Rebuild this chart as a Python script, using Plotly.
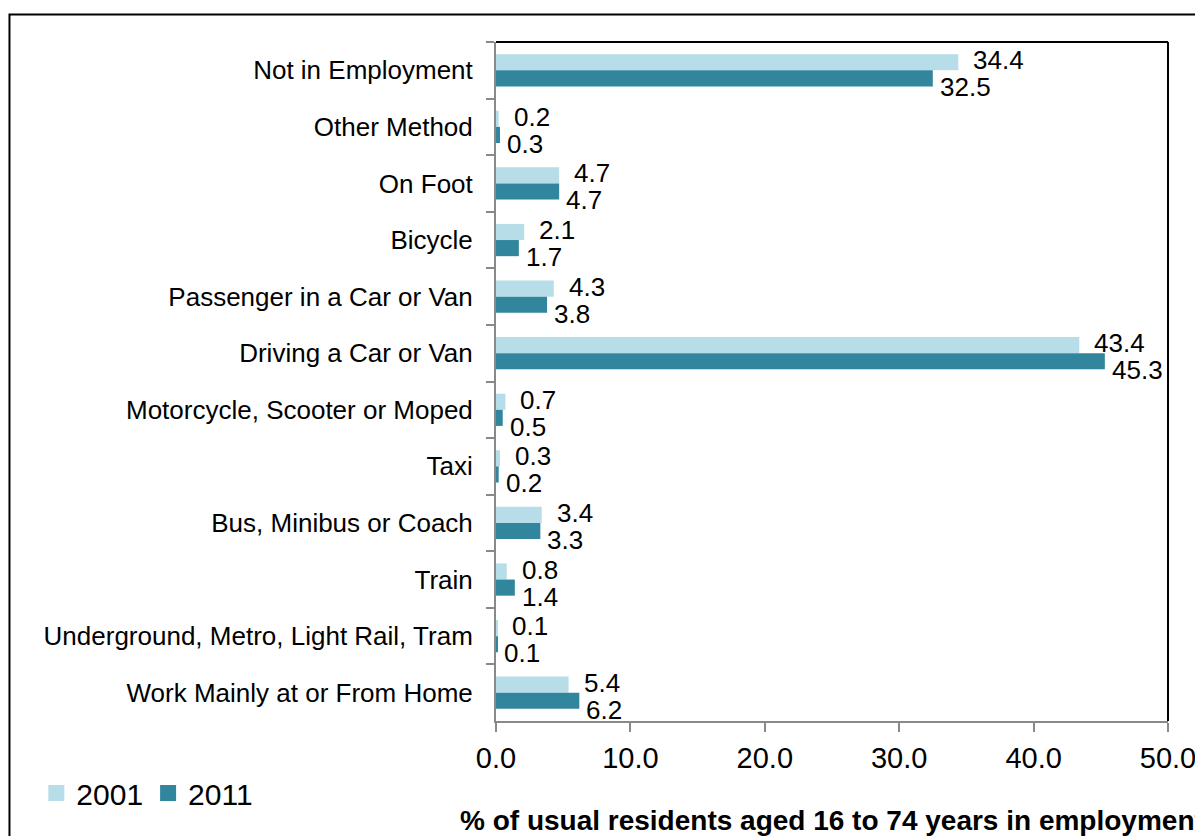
import plotly.graph_objects as go

categories = [
    "Not in Employment",
    "Other Method",
    "On Foot",
    "Bicycle",
    "Passenger in a Car or Van",
    "Driving a Car or Van",
    "Motorcycle, Scooter or Moped",
    "Taxi",
    "Bus, Minibus or Coach",
    "Train",
    "Underground, Metro, Light Rail, Tram",
    "Work Mainly at or From Home",
]
values_2001 = [34.4, 0.2, 4.7, 2.1, 4.3, 43.4, 0.7, 0.3, 3.4, 0.8, 0.1, 5.4]
values_2011 = [32.5, 0.3, 4.7, 1.7, 3.8, 45.3, 0.5, 0.2, 3.3, 1.4, 0.1, 6.2]
x_ticks = [0, 10, 20, 30, 40, 50]

FONT = "Arial, Liberation Sans, sans-serif"
light = "#B7DEE8"
dark = "#31859C"
axis_grey = "#898989"

fig = go.Figure()

fig.add_trace(
    go.Bar(
        name="2001",
        y=categories,
        x=values_2001,
        orientation="h",
        marker=dict(color=light, line=dict(width=0)),
        showlegend=False,
    )
)
fig.add_trace(
    go.Bar(
        name="2011",
        y=categories,
        x=values_2011,
        orientation="h",
        marker=dict(color=dark, line=dict(width=0)),
        showlegend=False,
    )
)

# legend keys as plain squares
for name, colour in [("2001", light), ("2011", dark)]:
    fig.add_trace(
        go.Scatter(
            name=name,
            x=[None],
            y=[None],
            mode="markers",
            marker=dict(symbol="square", size=16, color=colour),
            showlegend=True,
        )
    )

# value labels, 2001 raised a little, 2011 dropped below its bar
annotations = []
for cat, v in zip(categories, values_2001):
    annotations.append(
        dict(x=v, y=cat, xref="x", yref="y", text=f"{v:.1f}", showarrow=False,
             xanchor="left", yanchor="middle", xshift=13, yshift=10,
             font=dict(family=FONT, size=26, color="black"))
    )
for cat, v in zip(categories, values_2011):
    annotations.append(
        dict(x=v, y=cat, xref="x", yref="y", text=f"{v:.1f}", showarrow=False,
             xanchor="left", yanchor="middle", xshift=5, yshift=-17,
             font=dict(family=FONT, size=26, color="black"))
    )

annotations.append(
    dict(x=0.5, y=-0.146, xref="paper", yref="paper",
         text="<b>% of usual residents aged 16 to 74 years in employment</b>",
         showarrow=False, xanchor="center", yanchor="middle",
         font=dict(family=FONT, size=28, color="black"))
)

fig.update_layout(
    width=1203,
    height=836,
    autosize=False,
    paper_bgcolor="white",
    plot_bgcolor="white",
    barmode="group",
    bargap=0.43,
    bargroupgap=0,
    margin=dict(l=488, r=43, t=34, b=123, pad=0),
    font=dict(family=FONT, size=26, color="black"),
    showlegend=True,
    legend=dict(
        orientation="h",
        x=-0.684,
        y=-0.106,
        xanchor="left",
        yanchor="middle",
        font=dict(family=FONT, size=30, color="black"),
        itemwidth=30,
        bgcolor="rgba(0,0,0,0)",
    ),
    annotations=annotations,
    shapes=[
        # plot area top and right edges
        dict(type="line", xref="paper", yref="paper", x0=0, x1=1, y0=1, y1=1,
             line=dict(color="black", width=2)),
        dict(type="line", xref="paper", yref="paper", x0=1, x1=1, y0=0, y1=1,
             line=dict(color="black", width=2)),
        # outer chart frame, cut by the window
        dict(type="rect", xref="paper", yref="paper", x0=-0.724, x1=1.2, y0=-0.3, y1=1.0405,
             line=dict(color="black", width=2), layer="below"),
    ],
)

fig.update_xaxes(
    range=[0, 50],
    tickvals=x_ticks,
    tickformat=".1f",
    showgrid=False,
    zeroline=False,
    showline=True,
    linecolor=axis_grey,
    linewidth=2,
    ticks="outside",
    ticklen=9,
    tickwidth=2,
    tickcolor=axis_grey,
    tickfont=dict(family=FONT, size=29, color="black"),
    ticklabelstandoff=1,
)
fig.update_yaxes(
    range=[len(categories) - 0.5, -0.5],
    type="category",
    showgrid=False,
    showline=True,
    linecolor=axis_grey,
    linewidth=2,
    ticks="outside",
    tickson="boundaries",
    ticklen=8,
    tickwidth=2,
    tickcolor=axis_grey,
    tickfont=dict(family=FONT, size=26, color="black"),
    ticklabelstandoff=16,
)

fig.write_html("out.html")
